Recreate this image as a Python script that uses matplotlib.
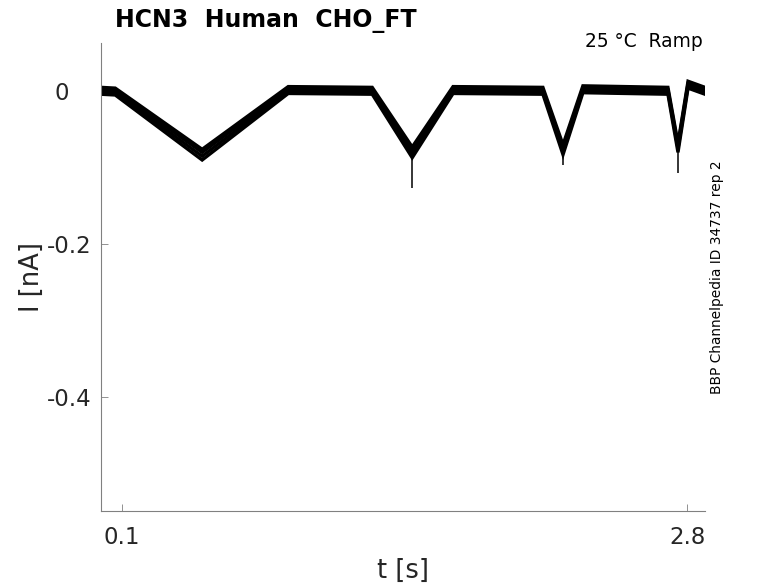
import numpy as np
import matplotlib.pyplot as plt

# ramp protocol keypoints (s) and recorded current of each sweep (nA)
t_keys = [0.0, 0.068, 0.483, 0.894, 1.295, 1.486, 1.681, 2.110, 2.206, 2.301, 2.707, 2.755, 2.803, 2.884]
sweep_1 = [0.005, 0.004, -0.076, 0.006, 0.005, -0.073, 0.006, 0.005, -0.070, 0.007, 0.005, -0.068, 0.013, 0.005]
sweep_2 = [0.002, 0.001, -0.080, 0.003, 0.002, -0.077, 0.003, 0.002, -0.074, 0.004, 0.002, -0.071, 0.010, 0.002]
sweep_3 = [-0.001, -0.002, -0.085, 0.000, -0.001, -0.082, 0.000, -0.001, -0.079, 0.001, -0.001, -0.075, 0.007, -0.001]
sweep_4 = [-0.004, -0.005, -0.090, -0.003, -0.004, -0.087, -0.003, -0.004, -0.083, -0.002, -0.004, -0.080, 0.004, -0.004]

# sharp peaks at the bottom of the short ramps
spike_t = [1.486, 2.206, 2.755]
spike_lo = [-0.127, -0.097, -0.107]
spike_hi = [-0.080, -0.078, -0.074]

x_ticks = [0.1, 2.8]
x_ticklabels = ["0.1", "2.8"]
y_ticks = [-0.4, -0.2, 0]
y_ticklabels = ["-0.4", "-0.2", "0\u2007 "]

fig = plt.figure(figsize=(7.78, 5.83), dpi=100)
ax = fig.add_axes([101 / 778, 1 - 511 / 583, 604 / 778, 468 / 583])

for sweep in (sweep_1, sweep_2, sweep_3, sweep_4):
    ax.plot(t_keys, sweep, color="black", lw=2.4, solid_joinstyle="miter")
ax.vlines(spike_t, spike_lo, spike_hi, color="black", lw=1.1)

ax.set_xlim(0, 2.884)
ax.set_ylim(-0.549, 0.063)
ax.set_xticks(x_ticks)
ax.set_xticklabels(x_ticklabels)
ax.set_yticks(y_ticks)
ax.set_yticklabels(y_ticklabels)

for side in ("top", "right"):
    ax.spines[side].set_visible(False)
for side in ("left", "bottom"):
    ax.spines[side].set_color("#808080")
    ax.spines[side].set_linewidth(0.8)

ax.tick_params(direction="in", length=5, width=0.6, color="#808080",
               labelsize=16.5, labelcolor="#262626")
ax.tick_params(axis="x", pad=11)
ax.tick_params(axis="y", pad=7)

ax.set_xlabel("t [s]", fontsize=18.5, color="#262626", labelpad=6)
ax.set_ylabel("I [nA]", fontsize=18.5, color="#262626", labelpad=1)

fig.text(115 / 778, 1 - 27 / 583, "HCN3  Human  CHO_FT", fontsize=17, fontweight="bold",
         ha="left", va="baseline")
fig.text(703 / 778, 1 - 47 / 583, "25 \u00b0C  Ramp", fontsize=13.4, ha="right", va="baseline")
fig.text(717 / 778, 1 - 277 / 583, "BBP Channelpedia ID 34737 rep 2", fontsize=9.9,
         rotation=90, ha="center", va="center")

fig.savefig("out.png", dpi=100)
